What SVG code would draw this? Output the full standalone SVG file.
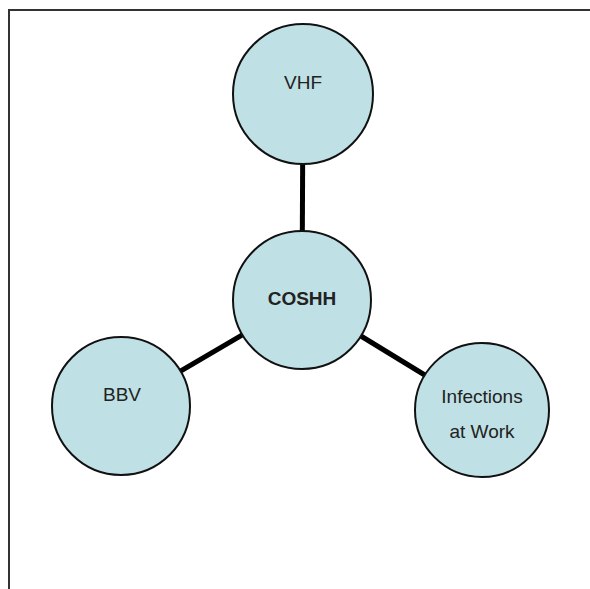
<svg xmlns="http://www.w3.org/2000/svg" width="590" height="589" viewBox="0 0 590 589">
<style>
.node circle{fill:#bfe0e4;stroke:#111;stroke-width:2}
.node text{font-family:"Liberation Sans",Arial,sans-serif;font-size:19px;fill:#222;text-anchor:middle}
.conn line{stroke:#000;stroke-width:5}
</style>
<rect x="0" y="0" width="590" height="589" fill="#fff"/>
<rect x="9" y="10" width="620" height="620" fill="none" stroke="#333" stroke-width="2"/>
<g id="connectors" class="conn">
<line x1="303" y1="94" x2="302" y2="300"/>
<line x1="302" y1="300" x2="121" y2="406"/>
<line x1="302" y1="300" x2="482" y2="410"/>
</g>
<g id="vhf" class="node"><circle cx="303" cy="94" r="70"/><text x="303" y="89">VHF</text></g>
<g id="coshh" class="node"><circle cx="302" cy="300" r="69"/><text x="302" y="305" font-weight="bold">COSHH</text></g>
<g id="bbv" class="node"><circle cx="121" cy="406" r="69"/><text x="122" y="401">BBV</text></g>
<g id="infections" class="node"><circle cx="482" cy="410" r="67"/><text x="482" y="403" font-size="20">Infections</text><text x="482" y="438" font-size="20">at Work</text></g>
</svg>
